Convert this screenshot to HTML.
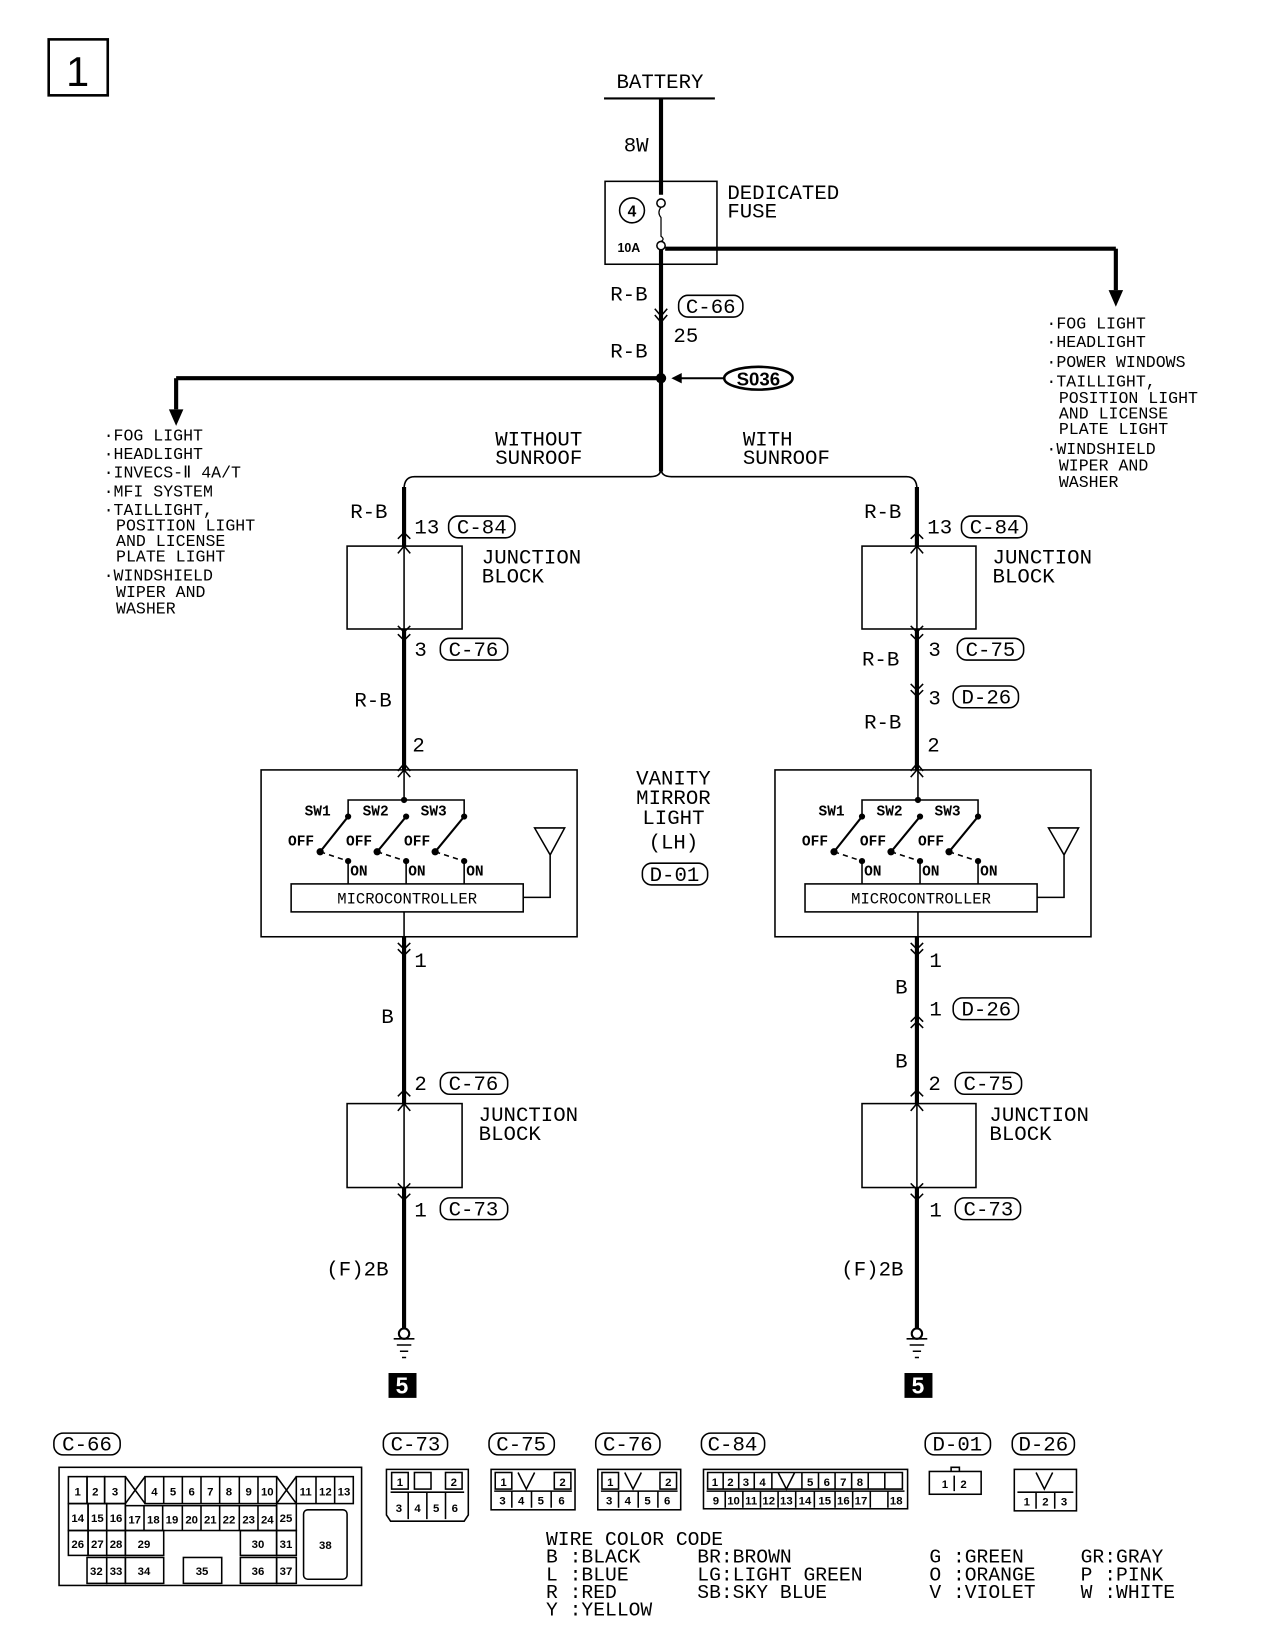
<!DOCTYPE html>
<html><head><meta charset="utf-8"><style>
html,body{margin:0;padding:0;background:#fff;}
svg{display:block}
text{font-family:"Liberation Mono",monospace;fill:#000}
.t{font-size:20px}
.s{font-size:16px}
.c{font-size:11px;font-family:"Liberation Sans",sans-serif;font-weight:bold}
</style></head><body>
<svg width="1264" height="1630" viewBox="0 0 1220 1573" preserveAspectRatio="none" xmlns="http://www.w3.org/2000/svg">
<g fill="none" stroke="#000">
<!-- box 1 -->
<rect x="47" y="38" width="57" height="54" stroke-width="2.5"/>
<!-- battery -->
<line x1="583" y1="95" x2="690" y2="95" stroke-width="2"/>
<line x1="638" y1="95" x2="638" y2="188" stroke-width="4"/>
<rect x="584" y="175" width="108" height="80" stroke-width="1.5"/>
<circle cx="610" cy="203" r="12" stroke-width="1.5"/>
<circle cx="638" cy="196" r="4" stroke-width="1.5"/>
<circle cx="638" cy="237" r="4" stroke-width="1.5"/>
<path d="M638 200 Q634 205 638 210 L638 228 Q642 231 638 233" stroke-width="1.2"/>
<line x1="642" y1="240" x2="1077" y2="240" stroke-width="4"/>
<line x1="1077" y1="240" x2="1077" y2="280" stroke-width="4"/>
<line x1="638" y1="241" x2="638" y2="455" stroke-width="4"/>
<path d="M632 298 L638 305 L644 298 M632 304 L638 311 L644 304" stroke-width="1.5"/>
<line x1="638" y1="365" x2="170" y2="365" stroke-width="4"/>
<line x1="170" y1="365" x2="170" y2="395" stroke-width="4"/>
<line x1="650" y1="365" x2="698" y2="365" stroke-width="2"/>
<ellipse cx="732" cy="365" rx="33" ry="11" stroke-width="2.5"/>
<!-- brace -->
<path d="M390 472 Q390 460 400 460 L628 460 Q638 460 638 452 Q638 460 648 460 L875 460 Q885 460 885 472" stroke-width="1.5"/>
<!-- left column -->
<line x1="390" y1="470" x2="390" y2="527" stroke-width="4"/>
<line x1="390" y1="527" x2="390" y2="607" stroke-width="1.5"/>
<line x1="390" y1="607" x2="390" y2="743" stroke-width="4"/>
<rect x="335" y="527" width="111" height="80" stroke-width="1.5"/>
<rect x="335" y="1065" width="111" height="81" stroke-width="1.5"/>
<line x1="390" y1="904" x2="390" y2="1065" stroke-width="4"/>
<line x1="390" y1="1065" x2="390" y2="1146" stroke-width="1.5"/>
<line x1="390" y1="1146" x2="390" y2="1283" stroke-width="4"/>
<!-- right column -->
<line x1="885" y1="470" x2="885" y2="527" stroke-width="4"/>
<line x1="885" y1="527" x2="885" y2="607" stroke-width="1.5"/>
<line x1="885" y1="607" x2="885" y2="743" stroke-width="4"/>
<rect x="832" y="527" width="110" height="80" stroke-width="1.5"/>
<rect x="832" y="1065" width="110" height="81" stroke-width="1.5"/>
<line x1="885" y1="904" x2="885" y2="1065" stroke-width="4"/>
<line x1="885" y1="1065" x2="885" y2="1146" stroke-width="1.5"/>
<line x1="885" y1="1146" x2="885" y2="1283" stroke-width="4"/>
<!-- chevrons left -->
<g stroke-width="1.5">
<path d="M384 534 L390 527 L396 534 M384 612 L390 618 L396 612 M384 520 L390 514 L396 520 M384 604 L390 610 L396 604"/>
<path d="M384 750 L390 743 L396 750 M384 744 L390 737 L396 744"/>
<path d="M384 910 L390 916 L396 910 M384 916 L390 922 L396 916"/>
<path d="M384 1058 L390 1052 L396 1058 M384 1072 L390 1065 L396 1072"/>
<path d="M384 1142 L390 1148 L396 1142 M384 1152 L390 1158 L396 1152"/>
<path d="M879 534 L885 527 L891 534 M879 612 L885 618 L891 612 M879 520 L885 514 L891 520 M879 604 L885 610 L891 604"/>
<path d="M879 660 L885 666 L891 660 M879 666 L885 672 L891 666"/>
<path d="M879 750 L885 743 L891 750 M879 744 L885 737 L891 744"/>
<path d="M879 910 L885 916 L891 910 M879 916 L885 922 L891 916"/>
<path d="M879 986 L885 980 L891 986 M879 992 L885 986 L891 992"/>
<path d="M879 1058 L885 1052 L891 1058 M879 1072 L885 1065 L891 1072"/>
<path d="M879 1142 L885 1148 L891 1142 M879 1152 L885 1158 L891 1152"/>
</g>
<!-- grounds -->
<circle cx="390" cy="1287" r="5" stroke-width="2"/>
<path d="M380 1292 H400 M383 1298 H397 M386 1304 H394 M388 1310 H392" stroke-width="1.5"/>
<circle cx="885" cy="1287" r="5" stroke-width="2"/>
<path d="M875 1292 H895 M878 1298 H892 M881 1304 H889 M883 1310 H887" stroke-width="1.5"/>
</g>
<!-- arrows -->
<path d="M1070 280 L1084 280 L1077 296 Z"/>
<path d="M163 395 L177 395 L170 411 Z"/>
<path d="M648 365 L658 360 L658 370 Z"/>
<circle cx="638" cy="365" r="5"/>
<rect x="375" y="1325" width="27" height="24"/>
<rect x="873" y="1325" width="27" height="24"/>
<text x="388" y="1345" text-anchor="middle" style="font-size:22px;font-weight:bold;fill:#fff;font-family:'Liberation Sans',sans-serif">5</text>
<text x="886" y="1345" text-anchor="middle" style="font-size:22px;font-weight:bold;fill:#fff;font-family:'Liberation Sans',sans-serif">5</text>

<!-- switch boxes -->
<g id="sw">
<g fill="none" stroke="#000">
<rect x="252" y="743" width="305" height="161" stroke-width="1.5"/>
<line x1="390" y1="743" x2="390" y2="772" stroke-width="1.5"/>
<line x1="390" y1="880" x2="390" y2="904" stroke-width="1.5"/>
<path d="M336 788 V772 H448 V788" stroke-width="1.5"/>
<path d="M336 788 L309 822 M392 788 L364 822 M448 788 L420 822" stroke-width="2"/>
<path d="M309 822 L336 831 M364 822 L392 831 M420 822 L448 831" stroke-width="1.5" stroke-dasharray="5,4"/>
<path d="M336 831 V853 M392 831 V853 M448 831 V853" stroke-width="1.5"/>
<rect x="281" y="853" width="224" height="27" stroke-width="1.5"/>
<path d="M505 866 H531 V825 M516 799 L545 799 L531 825 Z" stroke-width="1.5"/>
</g>
<g fill="#000"><circle cx="390" cy="772" r="3"/><circle cx="336" cy="788" r="3"/><circle cx="392" cy="788" r="3"/><circle cx="448" cy="788" r="3"/><circle cx="309" cy="822" r="3.5"/><circle cx="364" cy="822" r="3.5"/><circle cx="420" cy="822" r="3.5"/><circle cx="336" cy="831" r="3"/><circle cx="392" cy="831" r="3"/><circle cx="448" cy="831" r="3"/></g>
<text x="294" y="787" style="font-size:14px;font-weight:bold">SW1</text>
<text x="350" y="787" style="font-size:14px;font-weight:bold">SW2</text>
<text x="406" y="787" style="font-size:14px;font-weight:bold">SW3</text>
<text x="278" y="816" style="font-size:14px;font-weight:bold">OFF</text>
<text x="334" y="816" style="font-size:14px;font-weight:bold">OFF</text>
<text x="390" y="816" style="font-size:14px;font-weight:bold">OFF</text>
<text x="338" y="845" style="font-size:14px;font-weight:bold">ON</text>
<text x="394" y="845" style="font-size:14px;font-weight:bold">ON</text>
<text x="450" y="845" style="font-size:14px;font-weight:bold">ON</text>
<text x="393" y="872" text-anchor="middle" style="font-size:15px">MICROCONTROLLER</text>
</g>
<use href="#sw" x="496"/>

<!-- labels -->
<text x="75" y="83" text-anchor="middle" style="font-size:40px;font-family:'Liberation Sans',sans-serif">1</text>
<text x="637" y="85" text-anchor="middle" class="t">BATTERY</text>
<text x="602" y="146" class="t">8W</text>
<text x="610" y="209" text-anchor="middle" style="font-size:15px;font-weight:bold;font-family:'Liberation Sans',sans-serif">4</text>
<text x="596" y="243" style="font-size:12px;font-weight:bold;font-family:'Liberation Sans',sans-serif">10A</text>
<text x="702" y="192" class="t">DEDICATED</text>
<text x="702" y="210" class="t">FUSE</text>
<text x="589" y="290" class="t">R-B</text>
<text x="589" y="345" class="t">R-B</text>
<text x="650" y="330" class="t">25</text>
<g fill="none" stroke="#000" stroke-width="1.5">
<rect x="655" y="285" width="62" height="21" rx="9"/>
<rect x="433" y="498" width="64" height="21" rx="9"/>
<rect x="425" y="616" width="65" height="21" rx="9"/>
<rect x="425" y="1035" width="65" height="21" rx="9"/>
<rect x="425" y="1156" width="65" height="21" rx="9"/>
<rect x="928" y="498" width="63" height="21" rx="9"/>
<rect x="924" y="616" width="64" height="21" rx="9"/>
<rect x="920" y="662" width="63" height="21" rx="9"/>
<rect x="920" y="963" width="63" height="21" rx="9"/>
<rect x="922" y="1035" width="64" height="21" rx="9"/>
<rect x="922" y="1156" width="63" height="21" rx="9"/>
<rect x="620" y="833" width="63" height="21" rx="9"/>
<rect x="52" y="1383" width="64" height="21" rx="9"/>
<rect x="370" y="1383" width="62" height="21" rx="9"/>
<rect x="472" y="1383" width="63" height="21" rx="9"/>
<rect x="575" y="1383" width="62" height="21" rx="9"/>
<rect x="677" y="1383" width="61" height="21" rx="9"/>
<rect x="893" y="1383" width="63" height="21" rx="9"/>
<rect x="977" y="1383" width="60" height="21" rx="9"/>
</g>
<text x="686" y="302" text-anchor="middle" class="t">C-66</text>
<text x="732" y="372" text-anchor="middle" style="font-size:18px;font-weight:bold;font-family:'Liberation Sans',sans-serif">S036</text>
<g class="s">
<text x="100" y="425" class="s">·FOG LIGHT</text>
<text x="100" y="443" class="s">·HEADLIGHT</text>
<text x="100" y="461" class="s">·INVECS-Ⅱ 4A/T</text>
<text x="100" y="479" class="s">·MFI SYSTEM</text>
<text x="100" y="497" class="s">·TAILLIGHT,</text>
<text x="112" y="512" class="s">POSITION LIGHT</text>
<text x="112" y="527" class="s">AND LICENSE</text>
<text x="112" y="542" class="s">PLATE LIGHT</text>
<text x="100" y="560" class="s">·WINDSHIELD</text>
<text x="112" y="576" class="s">WIPER AND</text>
<text x="112" y="592" class="s">WASHER</text>
<text x="1010" y="317" class="s">·FOG LIGHT</text>
<text x="1010" y="335" class="s">·HEADLIGHT</text>
<text x="1010" y="354" class="s">·POWER WINDOWS</text>
<text x="1010" y="373" class="s">·TAILLIGHT,</text>
<text x="1022" y="389" class="s">POSITION LIGHT</text>
<text x="1022" y="404" class="s">AND LICENSE</text>
<text x="1022" y="419" class="s">PLATE LIGHT</text>
<text x="1010" y="438" class="s">·WINDSHIELD</text>
<text x="1022" y="454" class="s">WIPER AND</text>
<text x="1022" y="470" class="s">WASHER</text>
</g>
<text x="478" y="430" class="t">WITHOUT</text>
<text x="478" y="448" class="t">SUNROOF</text>
<text x="717" y="430" class="t">WITH</text>
<text x="717" y="448" class="t">SUNROOF</text>
<!-- left column labels -->
<text x="338" y="500" class="t">R-B</text>
<text x="400" y="515" class="t">13</text>
<text x="465" y="515" text-anchor="middle" class="t">C-84</text>
<text x="465" y="544" class="t">JUNCTION</text>
<text x="465" y="562" class="t">BLOCK</text>
<text x="400" y="633" class="t">3</text>
<text x="457" y="633" text-anchor="middle" class="t">C-76</text>
<text x="342" y="682" class="t">R-B</text>
<text x="398" y="725" class="t">2</text>
<text x="400" y="933" class="t">1</text>
<text x="368" y="987" class="t">B</text>
<text x="400" y="1052" class="t">2</text>
<text x="457" y="1052" text-anchor="middle" class="t">C-76</text>
<text x="462" y="1082" class="t">JUNCTION</text>
<text x="462" y="1100" class="t">BLOCK</text>
<text x="400" y="1174" class="t">1</text>
<text x="457" y="1173" text-anchor="middle" class="t">C-73</text>
<text x="315" y="1231" class="t">(F)2B</text>
<!-- right column labels -->
<text x="834" y="500" class="t">R-B</text>
<text x="895" y="515" class="t">13</text>
<text x="960" y="515" text-anchor="middle" class="t">C-84</text>
<text x="958" y="544" class="t">JUNCTION</text>
<text x="958" y="562" class="t">BLOCK</text>
<text x="832" y="642" class="t">R-B</text>
<text x="896" y="633" class="t">3</text>
<text x="956" y="633" text-anchor="middle" class="t">C-75</text>
<text x="896" y="680" class="t">3</text>
<text x="952" y="679" text-anchor="middle" class="t">D-26</text>
<text x="834" y="703" class="t">R-B</text>
<text x="895" y="725" class="t">2</text>
<text x="897" y="933" class="t">1</text>
<text x="864" y="959" class="t">B</text>
<text x="897" y="980" class="t">1</text>
<text x="952" y="980" text-anchor="middle" class="t">D-26</text>
<text x="864" y="1030" class="t">B</text>
<text x="896" y="1052" class="t">2</text>
<text x="954" y="1052" text-anchor="middle" class="t">C-75</text>
<text x="955" y="1082" class="t">JUNCTION</text>
<text x="955" y="1100" class="t">BLOCK</text>
<text x="897" y="1174" class="t">1</text>
<text x="954" y="1173" text-anchor="middle" class="t">C-73</text>
<text x="812" y="1231" class="t">(F)2B</text>
<!-- vanity -->
<text x="650" y="757" text-anchor="middle" class="t">VANITY</text>
<text x="650" y="776" text-anchor="middle" class="t">MIRROR</text>
<text x="650" y="795" text-anchor="middle" class="t">LIGHT</text>
<text x="650" y="819" text-anchor="middle" class="t">(LH)</text>
<text x="651" y="850" text-anchor="middle" class="t">D-01</text>

<!-- bottom connector labels -->
<text x="84" y="1400" text-anchor="middle" class="t">C-66</text>
<text x="401" y="1400" text-anchor="middle" class="t">C-73</text>
<text x="503" y="1400" text-anchor="middle" class="t">C-75</text>
<text x="606" y="1400" text-anchor="middle" class="t">C-76</text>
<text x="707" y="1400" text-anchor="middle" class="t">C-84</text>
<text x="924" y="1400" text-anchor="middle" class="t">D-01</text>
<text x="1007" y="1400" text-anchor="middle" class="t">D-26</text>

<!-- C-66 -->
<g fill="none" stroke="#000" stroke-width="1.5">
<rect x="57" y="1416" width="292" height="114"/>
<rect x="66" y="1425" width="18" height="26"/><rect x="84" y="1425" width="17" height="26"/><rect x="101" y="1425" width="20" height="26"/>
<path d="M121 1425 L140 1451 M140 1425 L121 1451"/>
<rect x="140" y="1425" width="127" height="26"/>
<path d="M158 1425V1451M176 1425V1451M194 1425V1451M212 1425V1451M231 1425V1451M249 1425V1451"/>
<path d="M267 1425 L286 1451 M286 1425 L267 1451"/>
<rect x="286" y="1425" width="55" height="26"/><path d="M305 1425V1451M323 1425V1451"/>
<rect x="66" y="1451" width="19" height="26"/><rect x="85" y="1451" width="18" height="26"/><rect x="103" y="1451" width="18" height="26"/>
<rect x="121" y="1453" width="146" height="24"/>
<path d="M139 1453V1477M157 1453V1477M176 1453V1477M194 1453V1477M212 1453V1477M231 1453V1477M249 1453V1477"/>
<rect x="267" y="1451" width="19" height="26"/>
<rect x="293" y="1457" width="42" height="67" rx="4"/>
<rect x="66" y="1477" width="19" height="24"/><rect x="85" y="1477" width="18" height="24"/><rect x="103" y="1477" width="18" height="24"/>
<rect x="121" y="1477" width="37" height="24"/><rect x="232" y="1477" width="35" height="24"/><rect x="267" y="1477" width="19" height="24"/>
<rect x="84" y="1503" width="19" height="25"/><rect x="103" y="1503" width="18" height="25"/><rect x="121" y="1503" width="37" height="25"/>
<rect x="177" y="1503" width="37" height="25"/><rect x="232" y="1503" width="35" height="25"/><rect x="267" y="1503" width="19" height="25"/>
</g>
<g class="c" text-anchor="middle">
<text x="75" y="1443" class="c">1</text><text x="92" y="1443" class="c">2</text><text x="111" y="1443" class="c">3</text>
<text x="149" y="1443" class="c">4</text><text x="167" y="1443" class="c">5</text><text x="185" y="1443" class="c">6</text><text x="203" y="1443" class="c">7</text><text x="221" y="1443" class="c">8</text><text x="240" y="1443" class="c">9</text><text x="258" y="1443" class="c">10</text>
<text x="295" y="1443" class="c">11</text><text x="314" y="1443" class="c">12</text><text x="332" y="1443" class="c">13</text>
<text x="75" y="1469" class="c">14</text><text x="94" y="1469" class="c">15</text><text x="112" y="1469" class="c">16</text>
<text x="130" y="1470" class="c">17</text><text x="148" y="1470" class="c">18</text><text x="166" y="1470" class="c">19</text><text x="185" y="1470" class="c">20</text><text x="203" y="1470" class="c">21</text><text x="221" y="1470" class="c">22</text><text x="240" y="1470" class="c">23</text><text x="258" y="1470" class="c">24</text><text x="276" y="1469" class="c">25</text>
<text x="75" y="1494" class="c">26</text><text x="94" y="1494" class="c">27</text><text x="112" y="1494" class="c">28</text><text x="139" y="1494" class="c">29</text><text x="249" y="1494" class="c">30</text><text x="276" y="1494" class="c">31</text>
<text x="93" y="1520" class="c">32</text><text x="112" y="1520" class="c">33</text><text x="139" y="1520" class="c">34</text><text x="195" y="1520" class="c">35</text><text x="249" y="1520" class="c">36</text><text x="276" y="1520" class="c">37</text>
<text x="314" y="1495" class="c">38</text>
</g>

<!-- small connectors -->
<g fill="none" stroke="#000" stroke-width="1.5">
<path d="M373 1418 H452 V1462 L448 1468 H377 L373 1462 Z"/>
<rect x="378" y="1421" width="16" height="16"/><rect x="400" y="1421" width="16" height="16"/><rect x="430" y="1421" width="16" height="16"/>
<path d="M377 1440 H448 M394 1440 V1466 M412 1440 V1466 M430 1440 V1466"/>
<rect x="474" y="1418" width="81" height="39"/>
<rect x="478" y="1421" width="16" height="16"/><rect x="535" y="1421" width="16" height="16"/><path d="M500 1421 L508 1437 L516 1421"/>
<path d="M477 1439 H552 M494 1439V1455 M513 1439V1455 M532 1439V1455"/>
<rect x="577" y="1418" width="80" height="39"/>
<rect x="581" y="1421" width="16" height="16"/><rect x="637" y="1421" width="16" height="16"/><path d="M603 1421 L611 1437 L619 1421"/>
<path d="M580 1439 H654 M597 1439V1455 M616 1439V1455 M635 1439V1455"/>
<rect x="679" y="1418" width="197" height="38"/>
<path d="M683 1421 H871 V1437 H683 Z M698 1421V1437 M713 1421V1437 M728 1421V1437 M745 1421V1437 M774 1421V1437 M790 1421V1437 M806 1421V1437 M822 1421V1437 M838 1421V1437 M854 1421V1437"/>
<path d="M751 1421 L759 1437 L767 1421"/>
<path d="M682 1439 H873 M700 1439V1455 M717 1439V1455 M734 1439V1455 M751 1439V1455 M768 1439V1455 M786 1439V1455 M806 1439V1455 M823 1439V1455 M840 1439V1455 M857 1439V1455"/>
<rect x="897" y="1420" width="50" height="22"/><path d="M918 1420 V1416 H926 V1420 M921 1424 V1439"/>
<rect x="979" y="1418" width="60" height="40"/>
<path d="M1000 1421 L1008 1437 L1016 1421 M982 1440 H1036 M1000 1440V1456 M1018 1440V1456"/>
</g>
<g class="c" text-anchor="middle">
<text x="386" y="1434" class="c">1</text><text x="438" y="1434" class="c">2</text>
<text x="385" y="1459" class="c">3</text><text x="403" y="1459" class="c">4</text><text x="421" y="1459" class="c">5</text><text x="439" y="1459" class="c">6</text>
<text x="486" y="1434" class="c">1</text><text x="543" y="1434" class="c">2</text>
<text x="485" y="1452" class="c">3</text><text x="503" y="1452" class="c">4</text><text x="522" y="1452" class="c">5</text><text x="542" y="1452" class="c">6</text>
<text x="589" y="1434" class="c">1</text><text x="645" y="1434" class="c">2</text>
<text x="588" y="1452" class="c">3</text><text x="606" y="1452" class="c">4</text><text x="625" y="1452" class="c">5</text><text x="644" y="1452" class="c">6</text>
<text x="690" y="1434" class="c">1</text><text x="705" y="1434" class="c">2</text><text x="720" y="1434" class="c">3</text><text x="736" y="1434" class="c">4</text><text x="782" y="1434" class="c">5</text><text x="798" y="1434" class="c">6</text><text x="814" y="1434" class="c">7</text><text x="830" y="1434" class="c">8</text>
<text x="691" y="1452" class="c">9</text><text x="708" y="1452" class="c">10</text><text x="725" y="1452" class="c">11</text><text x="742" y="1452" class="c">12</text><text x="759" y="1452" class="c">13</text><text x="777" y="1452" class="c">14</text><text x="796" y="1452" class="c">15</text><text x="814" y="1452" class="c">16</text><text x="831" y="1452" class="c">17</text><text x="865" y="1452" class="c">18</text>
<text x="912" y="1436" class="c">1</text><text x="930" y="1436" class="c">2</text>
<text x="991" y="1453" class="c">1</text><text x="1009" y="1453" class="c">2</text><text x="1027" y="1453" class="c">3</text>
</g>

<!-- wire color code -->
<g style="font-size:19px">
<text x="527" y="1491" style="font-size:19px">WIRE COLOR CODE</text>
<text x="527" y="1508" style="font-size:19px">B :BLACK</text>
<text x="527" y="1525" style="font-size:19px">L :BLUE</text>
<text x="527" y="1542" style="font-size:19px">R :RED</text>
<text x="527" y="1559" style="font-size:19px">Y :YELLOW</text>
<text x="673" y="1508" style="font-size:19px">BR:BROWN</text>
<text x="673" y="1525" style="font-size:19px">LG:LIGHT GREEN</text>
<text x="673" y="1542" style="font-size:19px">SB:SKY BLUE</text>
<text x="897" y="1508" style="font-size:19px">G :GREEN</text>
<text x="897" y="1525" style="font-size:19px">O :ORANGE</text>
<text x="897" y="1542" style="font-size:19px">V :VIOLET</text>
<text x="1043" y="1508" style="font-size:19px">GR:GRAY</text>
<text x="1043" y="1525" style="font-size:19px">P :PINK</text>
<text x="1043" y="1542" style="font-size:19px">W :WHITE</text>
</g>
</svg>
</body></html>
